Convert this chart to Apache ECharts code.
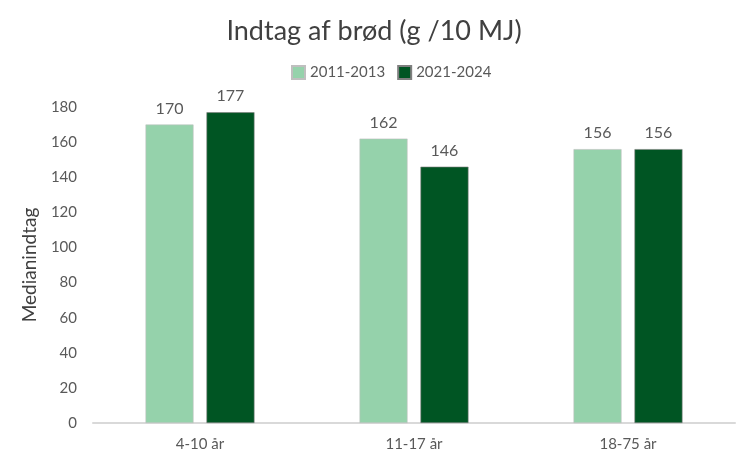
<!DOCTYPE html>
<html>
<head>
<meta charset="utf-8">
<script src="https://cdn.jsdelivr.net/npm/echarts@6/dist/echarts.min.js"></script>
<style>
  html, body { margin: 0; padding: 0; background: #fff; }
  #chart { width: 748px; height: 468px; }
</style>
</head>
<body>
<div id="chart"></div>
<script>
const categories = ['4-10 år', '11-17 år', '18-75 år'];
const series2011 = [170, 162, 156];
const series2021 = [177, 146, 156];
const yTicks = { min: 0, max: 180, interval: 20 };

const font = 'Lato, "Open Sans", sans-serif';
const chart = echarts.init(document.getElementById('chart'));

chart.setOption({
  animation: false,
  textStyle: { fontFamily: font },
  title: {
    text: 'Indtag af brød (g /10 MJ)',
    left: 'center',
    top: 13,
    textStyle: { fontSize: 27, fontWeight: 'normal', color: '#404040', fontFamily: font }
  },
  legend: {
    top: 60,
    left: 286,
    itemWidth: 13,
    itemHeight: 13,
    itemGap: 12,
    icon: 'rect',
    textStyle: { fontSize: 15, color: '#595959', fontFamily: font },
    data: ['2011-2013', '2021-2024']
  },
  grid: { left: 93, right: 13, top: 107, bottom: 45 },
  xAxis: {
    type: 'category',
    data: categories,
    axisLine: { lineStyle: { color: '#D9D9D9', width: 2 } },
    axisTick: { show: false },
    axisLabel: { fontSize: 15, color: '#595959', margin: 14, fontFamily: font }
  },
  yAxis: {
    type: 'value',
    min: yTicks.min,
    max: yTicks.max,
    interval: yTicks.interval,
    name: 'Medianindtag',
    nameLocation: 'middle',
    nameGap: 54,
    nameTextStyle: { fontSize: 19, color: '#404040', fontFamily: font },
    splitLine: { show: false },
    axisLine: { show: false },
    axisTick: { show: false },
    axisLabel: { fontSize: 15, color: '#595959', margin: 16, fontFamily: font }
  },
  series: [
    {
      name: '2011-2013',
      type: 'bar',
      data: series2011,
      barWidth: 48,
      barGap: '27%',
      itemStyle: { color: '#95D2AB', borderColor: '#BFBFBF', borderWidth: 0.6 },
      label: { show: true, position: 'top', distance: 8, fontSize: 16, color: '#595959', fontFamily: font }
    },
    {
      name: '2021-2024',
      type: 'bar',
      data: series2021,
      barWidth: 48,
      itemStyle: { color: '#005523', borderColor: '#7F7F7F', borderWidth: 0.6 },
      label: { show: true, position: 'top', distance: 8, fontSize: 16, color: '#595959', fontFamily: font }
    }
  ]
});
</script>
</body>
</html>
